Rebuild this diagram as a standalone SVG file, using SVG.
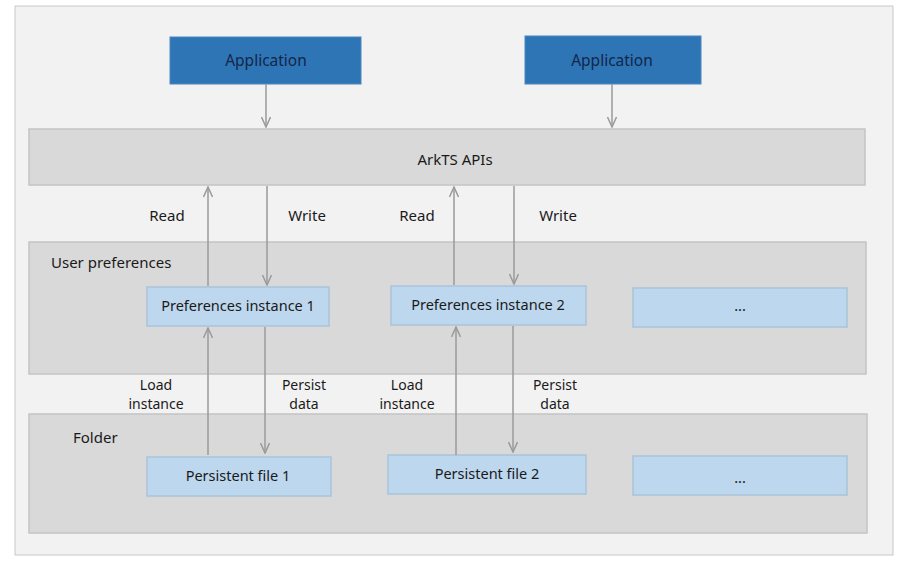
<svg xmlns="http://www.w3.org/2000/svg" width="897" height="567" viewBox="0 0 897 567">
<defs>
<style>
text{font-family:"Noto Sans","Open Sans","Liberation Sans",sans-serif;font-size:15px;fill:#1a1a1a;}
.c{text-anchor:middle;}
.app{fill:#2e75b6;stroke:#4a86c0;stroke-width:1;}
.apptxt{fill:#14264a;font-size:15.5px;}
.panel{fill:#d9d9d9;stroke:#c4c4c4;stroke-width:1.5;}
.box{fill:#bdd7ee;stroke:#aac3d9;stroke-width:1.5;}
.bt{font-size:14.5px;}
.two{font-size:14px;}
.arr{stroke:#9a9a9a;stroke-width:1.5;fill:none;marker-end:url(#ah);}
</style>
<marker id="ah" viewBox="0 0 12 10" refX="11" refY="5" markerWidth="12" markerHeight="10" markerUnits="userSpaceOnUse" orient="auto">
<path d="M1,0.5 L11,5 L1,9.5" fill="none" stroke="#9a9a9a" stroke-width="1.5"/>
</marker>
</defs>
<rect width="897" height="567" fill="#ffffff"/>
<rect x="15" y="6" width="878" height="549" fill="#f2f2f2" stroke="#c8c8c8" stroke-width="1"/>

<g id="app1"><rect class="app" x="170" y="37" width="191" height="47"/><text class="c apptxt" x="266" y="66">Application</text></g>
<g id="app2"><rect class="app" x="525" y="36" width="176" height="48"/><text class="c apptxt" x="612" y="66">Application</text></g>

<g id="arkts"><rect class="panel" x="29" y="129" width="836" height="56"/><text class="c" x="455" y="165">ArkTS APIs</text></g>

<g id="userprefs"><rect class="panel" x="29" y="242" width="837" height="132"/><text x="51" y="268">User preferences</text></g>
<g id="pref1"><rect class="box" x="147" y="287" width="182" height="39"/><text class="c bt" x="238" y="311">Preferences instance 1</text></g>
<g id="pref2"><rect class="box" x="391" y="286" width="195" height="39"/><text class="c bt" x="488" y="310">Preferences instance 2</text></g>
<g id="prefmore"><rect class="box" x="633" y="288" width="214" height="39"/><text class="c bt" x="740" y="311">...</text></g>

<g id="folder"><rect class="panel" x="29" y="414" width="838" height="119"/><text x="73" y="443">Folder</text></g>
<g id="file1"><rect class="box" x="147" y="457" width="184" height="39"/><text class="c bt" x="238" y="481">Persistent file 1</text></g>
<g id="file2"><rect class="box" x="388" y="455" width="198" height="39"/><text class="c bt" x="487" y="479">Persistent file 2</text></g>
<g id="filemore"><rect class="box" x="633" y="456" width="214" height="39"/><text class="c bt" x="740" y="483">...</text></g>

<g id="connectors">
<line class="arr" x1="266" y1="84" x2="266" y2="127"/>
<line class="arr" x1="612" y1="84" x2="612" y2="127"/>
<line class="arr" x1="208" y1="286" x2="208" y2="187"/>
<line class="arr" x1="267" y1="186" x2="267" y2="285"/>
<line class="arr" x1="454" y1="285" x2="454" y2="187"/>
<line class="arr" x1="514" y1="186" x2="514" y2="284"/>
<line class="arr" x1="208" y1="455" x2="208" y2="328"/>
<line class="arr" x1="265" y1="327" x2="265" y2="453"/>
<line class="arr" x1="456" y1="455" x2="456" y2="327"/>
<line class="arr" x1="513" y1="326" x2="513" y2="452"/>
</g>

<g id="labels">
<text class="c" x="167" y="221">Read</text>
<text class="c" x="307" y="221">Write</text>
<text class="c" x="417" y="221">Read</text>
<text class="c" x="558" y="221">Write</text>
<text class="c two" x="156" y="390">Load</text>
<text class="c two" x="156" y="409">instance</text>
<text class="c two" x="304" y="390">Persist</text>
<text class="c two" x="304" y="409">data</text>
<text class="c two" x="407" y="390">Load</text>
<text class="c two" x="407" y="409">instance</text>
<text class="c two" x="555" y="390">Persist</text>
<text class="c two" x="555" y="409">data</text>
</g>
</svg>
